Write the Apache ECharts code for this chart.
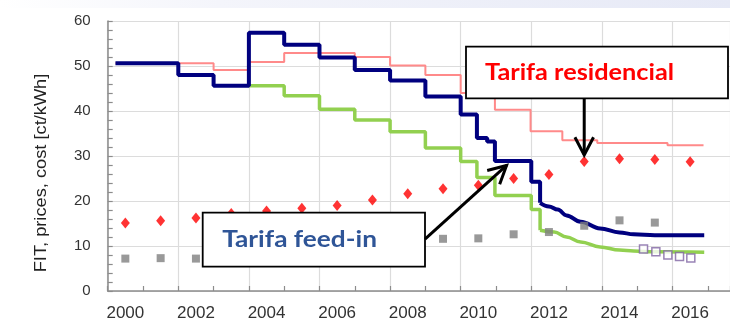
<!DOCTYPE html>
<html>
<head>
<meta charset="utf-8">
<script src="https://cdn.jsdelivr.net/npm/echarts@6/dist/echarts.min.js"></script>
<style>
  html, body { margin: 0; padding: 0; background: #ffffff; }
  #chart { width: 730px; height: 322px; }
</style>
</head>
<body>
<div id="chart"></div>
<script>
// ---- data (ct/kWh) ----
const yearLabels = [2000, 2002, 2004, 2006, 2008, 2010, 2012, 2014, 2016];

// Feed-in tariff, small rooftop PV: start of each tariff period and its rate
const fitSmallStepYears  = [1999.72, 2001.5, 2002.5, 2003.5, 2004.5, 2005.5, 2006.5, 2007.5, 2008.5, 2009.5, 2009.96, 2010.25, 2010.47, 2011.5, 2011.75];
const fitSmallStepValues = [50.6, 48.0, 45.6, 57.4, 54.7, 51.9, 49.1, 46.8, 43.2, 39.2, 34.0, 33.2, 28.9, 24.3, 19.6];
// monthly degression after 2012
const fitSmallTailYears  = [2011.75, 2012.0, 2012.25, 2012.5, 2012.9, 2013.45, 2014.0, 2014.4, 2015.0, 2016.4];
const fitSmallTailValues = [19.6, 18.8, 18.1, 16.8, 15.4, 13.9, 13.0, 12.6, 12.4, 12.4];

// Feed-in tariff, large / ground-mounted PV
const fitLargeStepYears  = [2003.5, 2004.5, 2005.5, 2006.5, 2007.5, 2008.5, 2009.5, 2009.96, 2010.47, 2011.5, 2011.75];
const fitLargeStepValues = [45.6, 43.4, 40.4, 38.0, 35.4, 31.8, 28.8, 25.2, 21.2, 18.1, 13.5];
const fitLargeTailYears  = [2011.75, 2012.15, 2012.5, 2012.9, 2013.45, 2014.0, 2014.4, 2015.0, 2016.4];
const fitLargeTailValues = [13.5, 13.1, 12.0, 10.9, 9.8, 9.1, 8.9, 8.7, 8.6];

// Upper reference tariff line
const upperStepYears  = [1999.72, 2002.5, 2003.5, 2004.5, 2006.5, 2007.5, 2008.5, 2009.5, 2010.47, 2011.48, 2012.38, 2013.37, 2015.36];
const upperStepValues = [50.6, 49.1, 50.9, 52.9, 52.0, 50.1, 48.0, 44.0, 40.3, 35.5, 33.5, 32.9, 32.4];
const upperStepEnd = 2016.38;

// Residential electricity price
const priceYears  = [2000, 2001, 2002, 2003, 2004, 2005, 2006, 2007, 2008, 2009, 2010, 2011, 2012, 2013, 2014, 2015, 2016];
const priceValues = [15.1, 15.6, 16.2, 17.2, 17.8, 18.4, 19.0, 20.2, 21.6, 22.7, 23.5, 25.0, 25.9, 28.8, 29.4, 29.2, 28.7];

// PV generation cost
const costYears  = [2000, 2001, 2002, 2009, 2010, 2011, 2012, 2013, 2014, 2015];
const costValues = [7.2, 7.3, 7.2, 11.6, 11.7, 12.6, 13.1, 14.5, 15.7, 15.2];

// Recent auction results
const auctionYears  = [2014.68, 2015.03, 2015.37, 2015.7, 2016.02];
const auctionValues = [9.35, 8.7, 8.0, 7.65, 7.35];

// ---- helpers ----
const pairs = (xs, ys) => xs.map((x, i) => [x, ys[i]]);
const stepPairs = (xs, ys, end) => {
  const p = pairs(xs, ys);
  if (end !== undefined) p.push([end, ys[ys.length - 1]]);
  return p;
};

const NAVY = '#00007f';
const GREEN = '#92d050';
const PINK = '#ff8a8a';

const chart = echarts.init(document.getElementById('chart'), null, { renderer: 'canvas' });

const option = {
  animation: false,
  backgroundColor: '#ffffff',
  grid: { left: 107.7, top: 21, right: 0, height: 271, containLabel: false },
  xAxis: {
    type: 'value',
    min: 1999.5,
    max: 2017.13,
    interval: 2,
    axisLine: { show: true, lineStyle: { color: '#8c8c8c', width: 1.5 } },
    axisTick: { show: true, inside: true, length: 5, lineStyle: { color: '#8c8c8c', width: 1.2 } },
    minorTick: { show: true, splitNumber: 2, length: 5, lineStyle: { color: '#8c8c8c', width: 1.2 } },
    splitLine: { show: true, lineStyle: { color: '#dcdcdc', width: 1.2 } },
    axisLabel: {
      customValues: yearLabels,
      formatter: v => String(Math.round(v)),
      color: '#333333',
      fontSize: 17,
      fontFamily: 'Liberation Sans, Arial, sans-serif',
      margin: 14
    }
  },
  yAxis: {
    type: 'value',
    min: 0,
    max: 60,
    interval: 10,
    axisLine: { show: true, lineStyle: { color: '#8c8c8c', width: 1.5 } },
    axisTick: { show: true, inside: true, length: 5, lineStyle: { color: '#8c8c8c', width: 1.2 } },
    minorTick: { show: true, splitNumber: 5, length: 5, lineStyle: { color: '#8c8c8c', width: 1.2 } },
    splitLine: { show: true, lineStyle: { color: '#dcdcdc', width: 1.2 } },
    axisLabel: {
      color: '#333333',
      fontSize: 15,
      fontFamily: 'Liberation Sans, Arial, sans-serif',
      margin: 17
    }
  },
  series: [
    {
      name: 'upper', type: 'line', step: 'end', z: 2,
      data: stepPairs(upperStepYears, upperStepValues, upperStepEnd),
      showSymbol: false, lineStyle: { color: PINK, width: 2 }
    },
    {
      name: 'fitLargeSteps', type: 'line', step: 'end', z: 3,
      data: stepPairs(fitLargeStepYears, fitLargeStepValues),
      showSymbol: false, lineStyle: { color: GREEN, width: 3.5 }
    },
    {
      name: 'fitLargeTail', type: 'line', smooth: 0.4, smoothMonotone: 'x', z: 3,
      data: pairs(fitLargeTailYears, fitLargeTailValues),
      showSymbol: false, lineStyle: { color: GREEN, width: 3.5 }
    },
    {
      name: 'fitSmallSteps', type: 'line', step: 'end', z: 4,
      data: stepPairs(fitSmallStepYears, fitSmallStepValues),
      showSymbol: false, lineStyle: { color: NAVY, width: 4 }
    },
    {
      name: 'fitSmallTail', type: 'line', smooth: 0.4, smoothMonotone: 'x', z: 4,
      data: pairs(fitSmallTailYears, fitSmallTailValues),
      showSymbol: false, lineStyle: { color: NAVY, width: 4 }
    },
    {
      name: 'price', type: 'scatter', z: 5,
      data: pairs(priceYears, priceValues),
      symbol: 'diamond', symbolSize: [9, 11],
      itemStyle: { color: '#ff0000' }
    },
    {
      name: 'cost', type: 'scatter', z: 5,
      data: pairs(costYears, costValues),
      symbol: 'rect', symbolSize: 8,
      itemStyle: { color: '#7f7f7f' }
    },
    {
      name: 'auction', type: 'scatter', z: 5,
      data: pairs(auctionYears, auctionValues),
      symbol: 'rect', symbolSize: 8,
      itemStyle: { color: '#ffffff', borderColor: '#8064a2', borderWidth: 1.5 }
    }
  ]
};

chart.setOption(option);

// ---- annotations: callout boxes with arrows ----
function arrow(from, to, head, width) {
  const ang = Math.atan2(to[1] - from[1], to[0] - from[0]);
  const spread = Math.PI / 6.5;
  const a1 = [to[0] - head * Math.cos(ang - spread), to[1] - head * Math.sin(ang - spread)];
  const a2 = [to[0] - head * Math.cos(ang + spread), to[1] - head * Math.sin(ang + spread)];
  return [
    { type: 'polyline', z: 100, shape: { points: [from, to] },
      style: { stroke: '#000', lineWidth: width, fill: null } },
    { type: 'polyline', z: 100, shape: { points: [a1, to, a2] },
      style: { stroke: '#000', lineWidth: width, fill: null, lineJoin: 'miter' } }
  ];
}

const resBox = { x: 466, y: 46.7, width: 262, height: 51.6 };
const fitBox = { x: 202.7, y: 212.7, width: 222.3, height: 54 };

const priceTip = chart.convertToPixel({ gridIndex: 0 }, [2013, 28.8]);
const fitTip = chart.convertToPixel({ gridIndex: 0 }, [2010.8, 28.9]);

const graphics = [
  {
    type: 'rect', z: 0, silent: true,
    shape: { x: 0, y: 0, width: 730, height: 8 },
    style: {
      fill: new echarts.graphic.LinearGradient(0, 0, 1, 0, [
        { offset: 0, color: '#ffffff' },
        { offset: 0.3, color: '#f4f5fb' },
        { offset: 1, color: '#e6e9f6' }
      ])
    }
  },
  {
    type: 'text', z: 100, x: 42, y: 173, rotation: Math.PI / 2, scaleX: 1.14,
    style: {
      text: 'FIT, prices, cost [ct/kWh]',
      fill: '#222222',
      font: '16px "Liberation Sans", Arial, sans-serif',
      textAlign: 'center', textVerticalAlign: 'middle'
    }
  },
  {
    type: 'rect', z: 90,
    shape: resBox,
    style: { fill: '#ffffff', stroke: '#000000', lineWidth: 1.8 }
  },
  {
    type: 'text', z: 101, x: resBox.x + 19, y: resBox.y + resBox.height / 2, scaleX: 1.1,
    style: {
      text: 'Tarifa residencial',
      fill: '#ff0000',
      font: 'bold 23px Lato, "Open Sans", sans-serif',
      textAlign: 'left', textVerticalAlign: 'middle'
    }
  },
  {
    type: 'rect', z: 90,
    shape: fitBox,
    style: { fill: '#ffffff', stroke: '#000000', lineWidth: 1.8 }
  },
  {
    type: 'text', z: 101, x: fitBox.x + 19.5, y: fitBox.y + fitBox.height / 2, scaleX: 1.14,
    style: {
      text: 'Tarifa feed-in',
      fill: '#2f5597',
      font: 'bold 23px Lato, "Open Sans", sans-serif',
      textAlign: 'left', textVerticalAlign: 'middle'
    }
  }
]
  .concat(arrow([priceTip[0], resBox.y + resBox.height], [priceTip[0], priceTip[1] - 6.5], 20, 3))
  .concat(arrow([fitBox.x + fitBox.width, fitBox.y + fitBox.height / 2 - 0.5], [fitTip[0], fitTip[1] + 4.5], 20, 3));

chart.setOption({ graphic: graphics });
</script>
</body>
</html>
